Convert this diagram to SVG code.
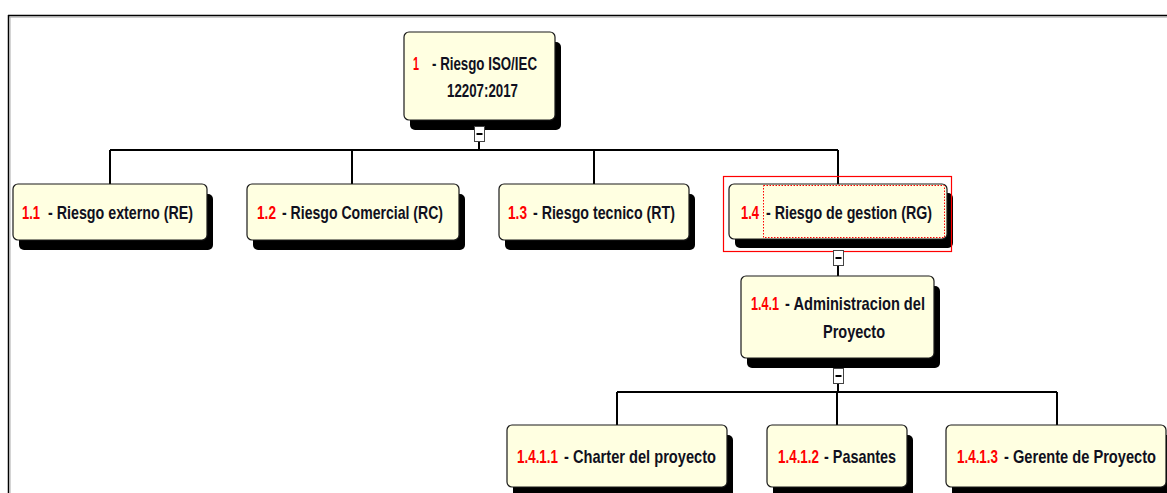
<svg xmlns="http://www.w3.org/2000/svg" width="1167" height="493" viewBox="0 0 1167 493">
  <style>
    .shadow { fill: #000; }
    .box { fill: #FFFFE1; stroke: #1a1a1a; stroke-width: 1.2; }
    .num { font-family: "Liberation Sans", Arial, sans-serif; font-weight: bold; font-size: 19px; fill: #FF0000; }
    .lbl { font-family: "Liberation Sans", Arial, sans-serif; font-weight: bold; font-size: 19px; fill: #101020; }
    .wire { stroke: #000; stroke-width: 2; fill: none; }
    .btn { fill: #fff; stroke: #444; stroke-width: 1; }
    .minus { stroke: #000; stroke-width: 2; }
  </style>

  <rect x="0" y="0" width="1167" height="493" fill="#fff"/>

  <!-- outer frame -->
  <g id="frame">
    <line x1="8" y1="15.5" x2="1167" y2="15.5" stroke="#000" stroke-width="1.5"/>
    <line x1="9" y1="17" x2="1167" y2="17" stroke="#999" stroke-width="1"/>
    <line x1="8.5" y1="15" x2="8.5" y2="493" stroke="#000" stroke-width="1.5"/>
    <line x1="10" y1="17" x2="10" y2="493" stroke="#aaa" stroke-width="1"/>
  </g>

  <!-- connectors -->
  <g id="connectors">
    <path class="wire" d="M479 141 V150 M110 150 H838 M110 150 V184 M352 150 V184 M594 150 V184 M838 150 V184"/>
    <path class="wire" d="M838 265 V276"/>
    <path class="wire" d="M838 383 V392 M617 392 H1057 M617 392 V425 M837 392 V425 M1057 392 V425"/>
  </g>

  <!-- root -->
  <g id="n1">
    <rect class="shadow" x="410" y="42" width="151" height="88" rx="5"/>
    <rect class="box" x="404" y="32" width="151" height="88" rx="5"/>
    <text class="num" x="413" y="70" textLength="6" lengthAdjust="spacingAndGlyphs">1</text>
    <text class="lbl" x="432" y="70" textLength="105" lengthAdjust="spacingAndGlyphs">- Riesgo ISO/IEC</text>
    <text class="lbl" x="447" y="97" textLength="71" lengthAdjust="spacingAndGlyphs">12207:2017</text>
    <rect class="btn" x="474.5" y="126.5" width="10" height="15"/>
    <line class="minus" x1="476.5" y1="134" x2="482.5" y2="134"/>
  </g>

  <g id="n1_1">
    <rect class="shadow" x="19" y="194" width="194" height="56" rx="5"/>
    <rect class="box" x="13" y="184" width="194" height="56" rx="5"/>
    <text class="num" x="22" y="219" textLength="18" lengthAdjust="spacingAndGlyphs">1.1</text>
    <text class="lbl" x="48" y="219" textLength="145" lengthAdjust="spacingAndGlyphs">- Riesgo externo (RE)</text>
  </g>

  <g id="n1_2">
    <rect class="shadow" x="253" y="194" width="212" height="56" rx="5"/>
    <rect class="box" x="247" y="184" width="212" height="56" rx="5"/>
    <text class="num" x="257" y="219" textLength="19" lengthAdjust="spacingAndGlyphs">1.2</text>
    <text class="lbl" x="282" y="219" textLength="161" lengthAdjust="spacingAndGlyphs">- Riesgo Comercial (RC)</text>
  </g>

  <g id="n1_3">
    <rect class="shadow" x="505" y="194" width="190" height="56" rx="5"/>
    <rect class="box" x="499" y="184" width="190" height="56" rx="5"/>
    <text class="num" x="508" y="219" textLength="19" lengthAdjust="spacingAndGlyphs">1.3</text>
    <text class="lbl" x="533" y="219" textLength="142" lengthAdjust="spacingAndGlyphs">- Riesgo tecnico (RT)</text>
  </g>

  <g id="n1_4">
    <rect class="shadow" x="735" y="193" width="218" height="55" rx="5"/>
    <rect class="box" x="729" y="184" width="218" height="55" rx="5"/>
    <rect x="763.5" y="185.5" width="181" height="52" fill="none" stroke="#FF0000" stroke-width="1" stroke-dasharray="1.5 1.5"/>
    <text class="num" x="741" y="219" textLength="18" lengthAdjust="spacingAndGlyphs">1.4</text>
    <text class="lbl" x="766" y="219" textLength="166" lengthAdjust="spacingAndGlyphs">- Riesgo de gestion (RG)</text>
    <rect x="723.5" y="176.5" width="228" height="75" fill="none" stroke="#FF0000" stroke-width="1.2"/>
    <rect class="btn" x="833.5" y="250.5" width="10" height="15"/>
    <line class="minus" x1="835.5" y1="258" x2="841.5" y2="258"/>
  </g>

  <g id="n1_4_1">
    <rect class="shadow" x="747" y="286" width="193" height="82" rx="5"/>
    <rect class="box" x="741" y="276" width="193" height="82" rx="5"/>
    <text class="num" x="751" y="310" textLength="28" lengthAdjust="spacingAndGlyphs">1.4.1</text>
    <text class="lbl" x="785" y="310" textLength="140" lengthAdjust="spacingAndGlyphs">- Administracion del</text>
    <text class="lbl" x="823" y="338" textLength="62" lengthAdjust="spacingAndGlyphs">Proyecto</text>
    <rect class="btn" x="833.5" y="368.5" width="10" height="15"/>
    <line class="minus" x1="835.5" y1="376" x2="841.5" y2="376"/>
  </g>

  <g id="n1_4_1_1">
    <rect class="shadow" x="513" y="435" width="220" height="62" rx="5"/>
    <rect class="box" x="507" y="425" width="220" height="62" rx="5"/>
    <text class="num" x="517" y="463" textLength="41" lengthAdjust="spacingAndGlyphs">1.4.1.1</text>
    <text class="lbl" x="564" y="463" textLength="152" lengthAdjust="spacingAndGlyphs">- Charter del proyecto</text>
  </g>

  <g id="n1_4_1_2">
    <rect class="shadow" x="773" y="435" width="140" height="62" rx="5"/>
    <rect class="box" x="767" y="425" width="140" height="62" rx="5"/>
    <text class="num" x="778" y="463" textLength="41" lengthAdjust="spacingAndGlyphs">1.4.1.2</text>
    <text class="lbl" x="824" y="463" textLength="72" lengthAdjust="spacingAndGlyphs">- Pasantes</text>
  </g>

  <g id="n1_4_1_3">
    <rect class="shadow" x="952" y="435" width="220" height="62" rx="5"/>
    <rect class="box" x="946" y="425" width="220" height="62" rx="5"/>
    <text class="num" x="957" y="463" textLength="41" lengthAdjust="spacingAndGlyphs">1.4.1.3</text>
    <text class="lbl" x="1004" y="463" textLength="152" lengthAdjust="spacingAndGlyphs">- Gerente de Proyecto</text>
  </g>
</svg>
